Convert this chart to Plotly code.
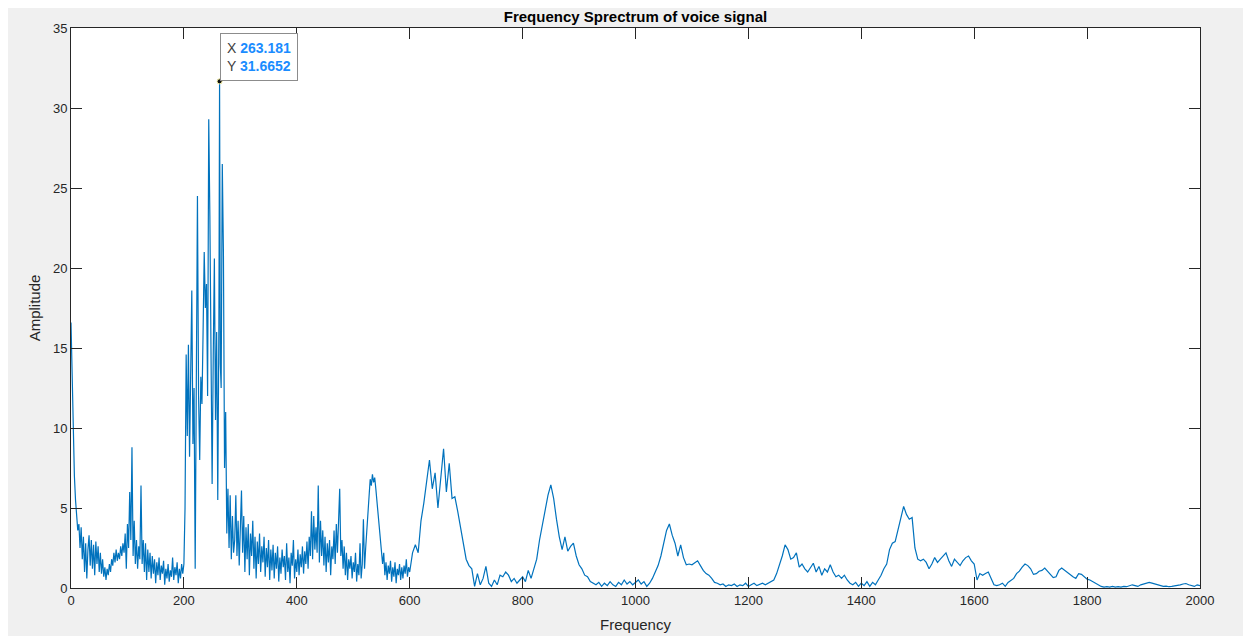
import numpy as np
import plotly.graph_objects as go

# ---------------- data ----------------
# Segment A: 0 .. 198 Hz, step 2 Hz
seg_a_start, seg_a_step = 0, 2
seg_a_amp = [16.6, 13.0, 9.5, 7.0, 5.5, 4.2, 3.6, 4.0, 2.5, 3.8,
             1.8, 3.2, 1.0, 2.8, 0.6, 2.4, 3.3, 1.4, 3.0, 1.2,
             2.7, 0.8, 2.9, 1.5, 2.6, 1.0, 2.2, 0.9, 1.8, 0.7,
             1.3, 0.5, 1.2, 0.8, 1.5, 1.0, 1.8, 1.4, 2.2, 1.6,
             2.4, 1.7, 2.2, 1.8, 2.6, 2.0, 2.8, 2.2, 3.4, 1.2,
             4.0, 2.5, 6.0, 3.0, 8.8, 2.0, 4.2, 1.5, 3.0, 1.2,
             2.6, 1.8, 6.4, 1.5, 3.0, 1.0, 2.8, 0.5, 2.4, 1.0,
             2.2, 0.6, 2.0, 0.9, 1.8, 0.3, 1.6, 0.8, 1.9, 0.5,
             1.4, 0.9, 1.7, 0.2, 1.2, 0.6, 1.5, 0.4, 1.1, 0.7,
             1.9, 0.5, 1.3, 0.8, 1.6, 0.3, 1.2, 0.6, 1.5, 0.9]

# Segment B: main peak region (irregular frequencies)
seg_b_freq = [200, 202, 204, 206, 208, 210, 212, 214, 216, 218,
              220, 222, 224, 226, 228, 230, 232, 234, 236, 238,
              240, 242, 244, 246, 248, 250, 252, 254, 256, 258,
              260, 262, 263.181, 264.5, 266, 268, 270, 272, 274, 276,
              278, 280, 282, 284, 286, 288]
seg_b_amp = [1.5, 5.0, 14.6, 9.5, 15.2, 8.2, 14.0, 18.6, 9.0, 12.5,
             1.2, 10.5, 24.5, 12.0, 8.0, 13.2, 11.5, 16.0, 21.0, 17.5,
             19.0, 12.0, 29.3, 23.2, 11.5, 6.5, 14.5, 20.6, 10.5, 16.0,
             5.5, 16.5, 31.6652, 14.0, 12.5, 26.5, 21.0, 7.5, 11.0, 3.4,
             6.2, 2.5, 5.8, 1.8, 4.5, 2.2]

# Segment C: 290 .. 598 Hz, step 2 Hz
seg_c_start, seg_c_step = 290, 2
seg_c_amp = [3.0, 5.8, 2.0, 4.2, 1.4, 4.8, 6.1, 2.2, 4.5, 1.0,
             3.8, 1.8, 4.0, 0.8, 3.4, 2.0, 4.2, 1.2, 3.2, 0.6,
             2.9, 1.5, 3.4, 1.0, 2.6, 1.6, 3.2, 0.7, 2.5, 1.3,
             3.0, 0.5, 2.4, 1.1, 2.7, 0.6, 2.2, 1.2, 2.6, 0.4,
             1.9, 0.9, 2.4, 1.3, 2.0, 0.5, 2.8, 1.0, 1.9, 0.3,
             2.2, 1.4, 3.0, 0.6, 1.8, 1.0, 2.4, 0.8, 2.1, 1.3,
             2.6, 0.9, 2.3, 1.5, 2.9, 1.2, 3.2, 2.0, 4.8, 1.8,
             4.5, 2.4, 3.8, 2.2, 6.4, 1.6, 4.2, 2.0, 3.6, 1.4,
             3.2, 1.0, 2.8, 1.6, 3.0, 0.8, 2.6, 1.8, 3.6, 1.5,
             4.0, 2.2, 4.5, 6.2, 2.0, 3.0, 1.2, 2.6, 0.8, 2.2,
             0.5, 1.8, 1.2, 2.0, 0.6, 1.6, 1.0, 2.2, 0.4, 1.5,
             0.8, 2.8, 0.6, 1.5, 4.3, 1.2, 2.5, 3.6, 4.8, 6.0,
             6.8, 6.4, 7.1, 6.6, 6.9, 6.2, 5.4, 4.5, 3.6, 2.8,
             2.0, 1.5, 2.2, 0.8, 1.6, 0.5, 1.4, 0.9, 1.7, 0.4,
             1.3, 0.7, 1.6, 0.3, 1.2, 0.8, 1.5, 0.5, 1.3, 0.6,
             1.4, 0.9, 1.8, 0.7, 1.3]

# Segment D: 600 .. 2000 Hz, step 5 Hz
seg_d_start, seg_d_step = 600, 5
seg_d_amp = [
    1.0, 2.2, 2.7, 2.2, 4.2, 5.3, 6.8, 8.0, 6.2, 7.2, 5.0, 7.0, 8.7, 6.0, 7.8, 5.6, 5.7, 4.8, 3.8, 2.8,
    1.8, 1.4, 1.2, 0.1, 0.9, 0.2, 0.6, 1.35, 0.3, 0.1, 0.5, 0.2, 0.8, 0.7, 1.0, 0.8, 0.4, 0.6, 0.3, 0.5,
    0.7, 0.4, 1.1, 0.6, 1.2, 1.8, 3.0, 4.0, 5.0, 5.8, 6.45, 5.6, 4.3, 3.2, 2.4, 3.2, 2.3, 2.6, 2.8, 2.0,
    1.45, 1.2, 0.8, 0.7, 0.4, 0.3, 0.2, 0.35, 0.1, 0.3, 0.15, 0.4, 0.2, 0.1, 0.35, 0.2, 0.5, 0.25, 0.4, 0.2,
    0.35, 0.5, 0.25, 0.4, 0.1, 0.3, 0.6, 1.0, 1.4, 2.0, 2.9, 3.6, 4.0, 3.3, 2.8, 2.0, 2.7, 1.9, 1.45, 1.5,
    1.45, 1.6, 1.7, 1.4, 1.1, 0.9, 0.8, 0.6, 0.35, 0.3, 0.2, 0.25, 0.1, 0.2, 0.15, 0.25, 0.1, 0.2, 0.15, 0.3,
    0.1, 0.2, 0.3, 0.15, 0.25, 0.3, 0.2, 0.3, 0.35, 0.5, 0.9, 1.4, 2.0, 2.7, 2.4, 1.8, 1.9, 2.2, 1.3, 1.5,
    1.2, 1.0, 1.3, 1.55, 1.0, 1.35, 0.8, 1.2, 1.0, 1.45, 1.0, 0.7, 0.8, 0.6, 0.8, 0.5, 0.3, 0.2, 0.35, 0.1,
    0.3, 0.15, 0.4, 0.1, 0.35, 0.2, 0.5, 0.8, 1.2, 1.5, 2.4, 2.8, 2.9, 3.7, 4.5, 5.1, 4.6, 4.3, 4.4, 2.5,
    1.8, 1.7, 1.8, 1.6, 1.2, 1.5, 1.9, 1.6, 1.8, 2.0, 2.2, 1.7, 1.35, 1.8, 1.6, 1.4, 1.7, 1.9, 2.0, 1.7,
    1.5, 0.5, 0.9, 0.8, 0.9, 1.0, 0.6, 0.2, 0.15, 0.2, 0.3, 0.1, 0.35, 0.5, 0.6, 0.9, 1.05, 1.3, 1.5, 1.4,
    1.2, 0.85, 0.9, 1.05, 1.1, 1.25, 1.05, 0.9, 0.65, 0.7, 1.1, 1.25, 1.1, 0.95, 0.8, 0.7, 0.6, 0.9, 0.85, 0.7,
    0.55, 0.5, 0.4, 0.3, 0.15, 0.1, 0.05, 0.08, 0.05, 0.1, 0.05, 0.08, 0.05, 0.1, 0.08, 0.15, 0.2, 0.15, 0.1, 0.2,
    0.25, 0.3, 0.35, 0.3, 0.25, 0.2, 0.15, 0.1, 0.12, 0.08, 0.1, 0.12, 0.15, 0.2, 0.25, 0.28, 0.2, 0.15, 0.1, 0.2,
    0.15]

x_ticks = [0, 200, 400, 600, 800, 1000, 1200, 1400, 1600, 1800, 2000]
y_ticks = [0, 5, 10, 15, 20, 25, 30, 35]

tip_x_text = "263.181"
tip_y_text = "31.6652"
tip_x = 263.181
tip_y = 31.6652

title_text = "Frequency Sprectrum of voice signal"
x_label = "Frequency"
y_label = "Amplitude"

# ---------------- build the series ----------------
freq = np.concatenate([
    seg_a_start + seg_a_step * np.arange(len(seg_a_amp)),
    np.array(seg_b_freq, dtype=float),
    seg_c_start + seg_c_step * np.arange(len(seg_c_amp)),
    seg_d_start + seg_d_step * np.arange(len(seg_d_amp)),
])
amp = np.concatenate([seg_a_amp, seg_b_amp, seg_c_amp, seg_d_amp])

FONT = "Liberation Sans, Arial, Helvetica, sans-serif"
AX = "#262626"

fig = go.Figure()
fig.add_trace(go.Scatter(x=freq, y=amp, mode="lines",
                         line=dict(color="#0072BD", width=1.2),
                         hoverinfo="skip", showlegend=False))
fig.add_trace(go.Scatter(x=[tip_x], y=[tip_y], mode="markers",
                         marker=dict(color="#111111", size=5,
                                     line=dict(color="#f5f0a0", width=1)),
                         hoverinfo="skip", showlegend=False))

fig.add_annotation(
    x=tip_x, y=tip_y, xref="x", yref="y",
    xanchor="left", yanchor="bottom", showarrow=False,
    align="left",
    text=("X <b><span style='color:#1a8cff'>" + tip_x_text + "</span></b><br>"
          "Y <b><span style='color:#1a8cff'>" + tip_y_text + "</span></b>"),
    font=dict(family=FONT, size=14, color="#404040"),
    bgcolor="white", bordercolor="#8c8c8c", borderwidth=1, borderpad=6,
)

axis_common = dict(
    showline=True, linecolor=AX, linewidth=1, mirror="ticks",
    ticks="inside", ticklen=11, tickcolor=AX, tickwidth=1,
    showgrid=False, zeroline=False,
    tickfont=dict(family=FONT, size=13, color=AX),
)

# the page body adds an 8 px offset, margins compensate for it
fig.update_layout(
    width=1251, height=636,
    margin=dict(l=63, r=59, t=20, b=56),
    paper_bgcolor="#f0f0f0", plot_bgcolor="white",
    title=dict(text="<b>" + title_text + "</b>", x=0.5, xref="paper",
               y=1 - 9 / 636, yanchor="middle",
               font=dict(family=FONT, size=15, color="#000000")),
    xaxis=dict(range=[0, 2000], tickvals=x_ticks,
               title=dict(text=x_label, standoff=12,
                          font=dict(family=FONT, size=15, color=AX)),
               **axis_common),
    yaxis=dict(range=[0, 35], tickvals=y_ticks,
               title=dict(text=y_label, standoff=8,
                          font=dict(family=FONT, size=15, color=AX)),
               **axis_common),
)

fig.write_html("out.html")
